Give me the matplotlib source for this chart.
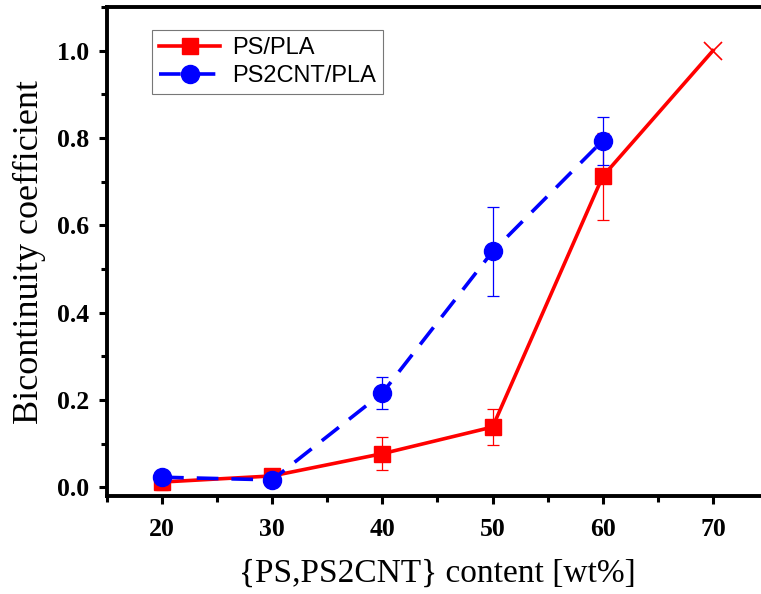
import matplotlib
matplotlib.use("Agg")
import matplotlib.pyplot as plt
from matplotlib.lines import Line2D
from matplotlib.ticker import MultipleLocator

# PS/PLA series (red squares); the 70 wt% point is drawn as a cross
ps_x = [20, 30, 40, 50, 60]
ps_y = [0.012, 0.026, 0.077, 0.138, 0.712]
ps_err = [0.018, 0.012, 0.038, 0.042, 0.100]
ps_end_x = [60, 70]
ps_end_y = [0.712, 1.0]

# PS2CNT/PLA series (blue circles)
cnt_x = [20, 30, 40, 50, 60]
cnt_y = [0.023, 0.017, 0.216, 0.540, 0.794]
cnt_err = [0.010, 0.008, 0.037, 0.101, 0.055]

xticks = [20, 30, 40, 50, 60, 70]
yticks = [0.0, 0.2, 0.4, 0.6, 0.8, 1.0]

W, H = 761, 594
fig = plt.figure(figsize=(W / 100, H / 100), dpi=100)
ax = fig.add_axes([107 / W, (H - 496) / H, (768 - 107) / W, (496 - 7) / H])

red = "#ff0000"
blue = "#0000ff"
dash = (0, (6, 3.6))

ax.plot(ps_end_x, ps_end_y, color=red, lw=2.6, zorder=3)
ax.plot([70], [1.0], marker="x", color=red, ms=13, mew=1.2, ls="none", zorder=4)
ax.errorbar(ps_x, ps_y, yerr=ps_err, color=red, lw=2.6, marker="s", ms=11,
            ecolor=red, elinewidth=0.9, capsize=4, capthick=0.9, zorder=3)
ax.errorbar(cnt_x, cnt_y, yerr=cnt_err, color=blue, lw=2.6, ls=dash,
            marker="o", ms=13, ecolor=blue, elinewidth=0.9, capsize=4,
            capthick=0.9, zorder=4)

ax.set_xlim(15, 75)
ax.set_ylim(-0.02, 1.1)
ax.set_xticks(xticks)
ax.set_yticks(yticks)
ax.xaxis.set_minor_locator(MultipleLocator(5))
ax.yaxis.set_minor_locator(MultipleLocator(0.1))
ax.tick_params(which="major", direction="out", length=6, width=2.2)
ax.tick_params(which="minor", direction="out", length=4, width=2.2)
tick_font = dict(fontfamily="Liberation Serif", fontweight="bold", fontsize=18.5)
ax.set_yticklabels([f"{v:.1f}" for v in yticks], **tick_font)
ax.set_xticklabels([str(v) for v in xticks], **tick_font)
ax.tick_params(axis="x", pad=10)
ax.tick_params(axis="y", pad=7)

for s in ax.spines.values():
    s.set_linewidth(2.8)

ax.set_xlabel("{PS,PS2CNT} content [wt%]", fontfamily="Liberation Serif",
              fontsize=24, labelpad=12)
ax.set_ylabel("Bicontinuity coefficient", fontfamily="Liberation Serif",
              fontsize=26, labelpad=8)

handles = [
    Line2D([], [], color=red, lw=2.6, marker="s", ms=11),
    Line2D([], [], color=blue, lw=2.6, ls=dash, marker="o", ms=13),
]
leg = ax.legend(handles, ["PS/PLA", "PS2CNT/PLA"], loc="upper left",
                bbox_to_anchor=(45 / 661, 1 - 23 / 489),
                prop={"family": "Liberation Sans", "size": 17},
                frameon=True, fancybox=False, edgecolor="#555555",
                handlelength=2.6, handletextpad=0.5, borderpad=0.3,
                labelspacing=0.25, borderaxespad=0)
leg.get_frame().set_linewidth(0.8)

fig.savefig("out.png", dpi=100)
